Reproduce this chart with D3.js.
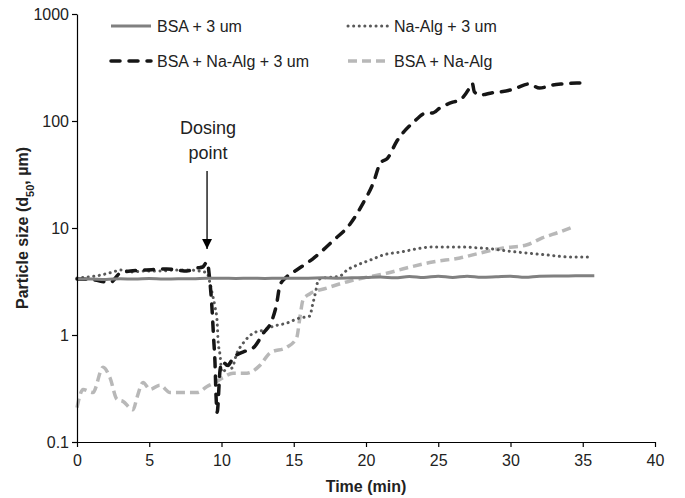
<!DOCTYPE html>
<html>
<head>
<meta charset="utf-8">
<script src="https://cdn.jsdelivr.net/npm/d3@7"></script>
<style>
  body { margin: 0; background: #fff; }
  text { font-family: "Liberation Sans", Arial, sans-serif; }
</style>
</head>
<body>
<div id="chart"></div>
<script>
/* Particle size (d50) over time, log scale */

// time (min) and size (um) for each series
const bsaTime = [0,1,2,3,4,5,6,7,8,9,10,11,12,13,14,15,16,17,18,19,20,21,22,23,24,25,26,27,28,29,30,31,32,33,34,35,35.8];
const bsaSize = [3.35,3.33,3.3,3.36,3.33,3.38,3.33,3.36,3.35,3.4,3.4,3.38,3.4,3.38,3.4,3.4,3.4,3.42,3.4,3.42,3.44,3.48,3.42,3.52,3.44,3.55,3.45,3.54,3.46,3.5,3.55,3.46,3.54,3.56,3.56,3.58,3.58];

const algTime = [0,1.5,2.5,3,3.9,4.5,5.7,6.9,7.6,8.5,9.0,9.2,9.35,9.55,9.7,9.76,9.9,10.03,10.24,10.5,10.7,11.07,11.5,12.2,12.9,13.6,14.5,15.4,16.1,16.3,16.5,16.7,17.0,17.7,18.2,18.7,19.4,20.3,21.2,22.4,24.6,26.5,27.9,28.8,29.8,31.1,32.5,34.1,35.5];
const algSize = [3.41,3.6,3.88,4.05,3.88,3.96,3.96,4.05,4.05,3.96,3.8,3.06,2.47,1.83,1.32,0.9,0.65,0.45,0.47,0.56,0.49,0.68,0.84,1.04,1.11,1.21,1.29,1.44,1.5,1.91,2.47,3.27,3.41,3.48,3.56,4.05,4.51,5.02,5.6,5.97,6.64,6.64,6.5,6.36,6.1,5.84,5.6,5.36,5.36];

const mixTime = [0,1,2.3,3,3.7,4.8,6.2,6.9,7.6,8.3,8.7,9.0,9.2,9.35,9.45,9.55,9.62,9.7,9.9,10.05,10.45,10.8,11.8,12.2,12.9,13.5,13.8,14.05,14.5,15.2,16.3,17.7,18.9,19.8,20.5,21.0,21.5,22.1,23.3,24.2,24.6,25.1,26.0,26.5,27.2,27.35,27.5,27.9,28.6,30.0,30.4,31.3,32.0,32.9,33.6,34.6,35.4];
const mixSize = [3.34,3.3,3.1,3.8,3.96,4.05,4.14,4.05,3.96,4.23,4.32,4.81,3.13,1.71,0.96,0.55,0.275,0.19,0.47,0.56,0.52,0.61,0.72,0.76,1.04,1.38,1.9,2.93,3.48,4.05,5.13,7.56,10.9,17.1,26.3,40.5,45,63.6,97.8,119,119,132,150,157,208,226,187,175,182,195,203,222,203,217,222,226,226];

const noBeadTime = [0,0.42,1.1,1.8,2.28,2.77,3.18,3.88,4.15,4.57,5.05,5.74,6.44,7.34,8.3,9.0,9.55,10.1,10.8,11.76,12.66,13.36,14.53,15.2,15.43,15.64,16.1,17.3,18.9,20.1,21.5,22.8,24.6,26.5,27.9,29.5,31.1,32.2,33.4,34.3];
const noBeadSize = [0.21,0.31,0.29,0.5,0.4,0.25,0.24,0.2,0.26,0.36,0.31,0.34,0.29,0.29,0.29,0.33,0.36,0.4,0.44,0.44,0.52,0.68,0.77,0.94,1.47,2.12,2.42,2.75,3.2,3.48,3.8,4.23,4.81,5.25,5.84,6.5,6.93,8.07,9.18,10.2];

const seriesNames = ["BSA + 3 um", "Na-Alg + 3 um", "BSA + Na-Alg + 3 um", "BSA + Na-Alg"];
const xTicks = [0,5,10,15,20,25,30,35,40];
const yTicks = [0.1,1,10,100,1000];

const height = 498,
      width = 685,
      margin = ({ top: 14, right: 30, bottom: 56, left: 77 });

let svg = d3.select("#chart")
    .append("svg")
    .attr("width", width)
    .attr("height", height);

let x = d3.scaleLinear()
    .domain([0, 40])
    .range([margin.left, width - margin.right]);

let y = d3.scaleLog()
    .domain([0.1, 1000])
    .range([height - margin.bottom, margin.top]);

// line styles for each series
const styles = [
    { color: "#808080", w: 3, dash: null, cap: "butt" },
    { color: "#595959", w: 3, dash: "0.1,5.5", cap: "round" },
    { color: "#161616", w: 3.5, dash: "9,9", cap: "round" },
    { color: "#b8b8b8", w: 3.5, dash: "9,5", cap: "butt" }
];

let series = [
    d3.zip(bsaTime, bsaSize),
    d3.zip(algTime, algSize),
    d3.zip(mixTime, mixSize),
    d3.zip(noBeadTime, noBeadSize)
];

let line = d3.line()
    .x(d => x(d[0]))
    .y(d => y(d[1]))
    .curve(d3.curveMonotoneX);

// draw in back-to-front order like the original
[3, 1, 2, 0].forEach(i => {
    svg.append("path")
        .datum(series[i])
        .attr("fill", "none")
        .attr("stroke", styles[i].color)
        .attr("stroke-width", styles[i].w)
        .attr("stroke-dasharray", styles[i].dash)
        .attr("stroke-linecap", styles[i].cap)
        .attr("stroke-linejoin", "round")
        .attr("d", line);
});

// axes
let xAxis = svg.append("g")
    .attr("transform", `translate(0,${height - margin.bottom})`)
    .call(d3.axisBottom(x).tickValues(xTicks).tickSize(5).tickSizeOuter(0));

let yAxis = svg.append("g")
    .attr("transform", `translate(${margin.left},0)`)
    .call(d3.axisLeft(y).tickValues(yTicks).tickFormat(d => d3.format("~g")(d)).tickSize(5).tickSizeOuter(0));

[xAxis, yAxis].forEach(a => {
    a.select(".domain").attr("stroke", "#000").attr("stroke-width", 1.2);
    a.selectAll(".tick line").attr("stroke", "#000").attr("stroke-width", 1.2);
    a.selectAll(".tick text")
        .attr("fill", "#222")
        .style("font-size", "16px")
        .style("font-family", "'Liberation Sans', Arial, sans-serif");
});
xAxis.selectAll(".tick text").attr("dy", "1em");

// axis titles
svg.append("text")
    .attr("x", (margin.left + width - margin.right) / 2)
    .attr("y", 492)
    .attr("text-anchor", "middle")
    .style("font-size", "16px")
    .style("font-weight", "bold")
    .attr("fill", "#222")
    .text("Time (min)");

let yTitle = svg.append("text")
    .attr("transform", `translate(28,${(margin.top + height - margin.bottom) / 2}) rotate(-90)`)
    .attr("text-anchor", "middle")
    .style("font-size", "16px")
    .style("font-weight", "bold")
    .attr("fill", "#222");
yTitle.append("tspan").text("Particle size (d");
yTitle.append("tspan").attr("baseline-shift", "sub").style("font-size", "11px").text("50");
yTitle.append("tspan").text(", µm)");

// dosing point annotation
svg.append("defs").append("marker")
    .attr("id", "arrow")
    .attr("viewBox", "0 0 10 10")
    .attr("refX", 10)
    .attr("refY", 5)
    .attr("markerWidth", 10)
    .attr("markerHeight", 10)
    .attr("markerUnits", "userSpaceOnUse")
    .attr("orient", "auto")
    .append("path")
    .attr("d", "M0,0 L10,5 L0,10 Z")
    .attr("fill", "#000");

svg.append("line")
    .attr("x1", x(9)).attr("x2", x(9))
    .attr("y1", 171).attr("y2", 249)
    .attr("stroke", "#000")
    .attr("stroke-width", 1.3)
    .attr("marker-end", "url(#arrow)");

svg.append("text")
    .attr("x", x(9) + 1)
    .attr("y", 134)
    .attr("text-anchor", "middle")
    .style("font-size", "18px")
    .attr("fill", "#222")
    .text("Dosing");

svg.append("text")
    .attr("x", x(9) + 1)
    .attr("y", 159)
    .attr("text-anchor", "middle")
    .style("font-size", "18px")
    .attr("fill", "#222")
    .text("point");

// legend, two columns
const legendX = [111, 348],
      legendY = [26, 61];

seriesNames.forEach((name, i) => {
    let lx = legendX[i % 2],
        ly = legendY[Math.floor(i / 2)];
    svg.append("line")
        .attr("x1", lx).attr("x2", lx + 40)
        .attr("y1", ly).attr("y2", ly)
        .attr("stroke", styles[i].color)
        .attr("stroke-width", styles[i].w)
        .attr("stroke-dasharray", styles[i].dash)
        .attr("stroke-linecap", styles[i].cap);
    svg.append("text")
        .attr("x", lx + 46)
        .attr("y", ly + 6)
        .style("font-size", "16px")
        .attr("fill", "#222")
        .text(name);
});
</script>
</body>
</html>
